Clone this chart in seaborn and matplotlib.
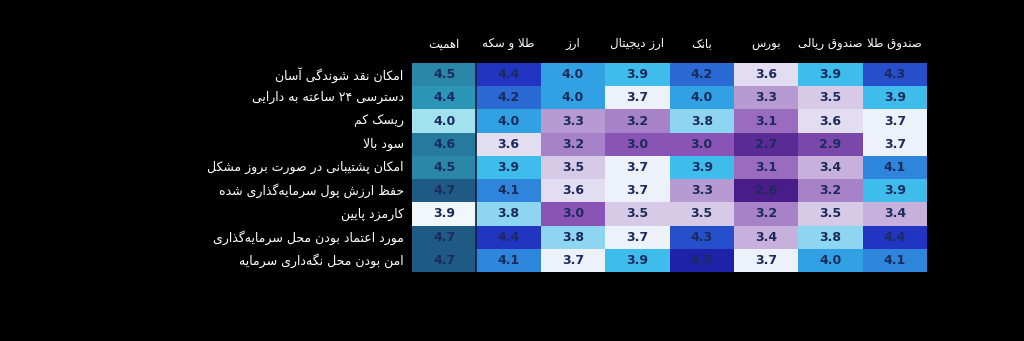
import numpy as np
import pandas as pd
import seaborn as sns
import matplotlib
matplotlib.use("Agg")
import matplotlib.pyplot as plt
from matplotlib.colors import LinearSegmentedColormap

# ---------------- data ----------------
columns = ["اهمیت", "طلا و سکه", "ارز", "ارز دیجیتال", "بانک", "بورس", "صندوق ریالی", "صندوق طلا"]
rows = [
    "امکان نقد شوندگی آسان",
    "دسترسی ۲۴ ساعته به دارایی",
    "ریسک کم",
    "سود بالا",
    "امکان پشتیبانی در صورت بروز مشکل",
    "حفظ ارزش پول سرمایه\u200cگذاری شده",
    "کارمزد پایین",
    "مورد اعتماد بودن محل سرمایه\u200cگذاری",
    "امن بودن محل نگه\u200cداری سرمایه",
]
importance = [4.5, 4.4, 4.0, 4.6, 4.5, 4.7, 3.9, 4.7, 4.7]
gold_coin = [4.4, 4.2, 4.0, 3.6, 3.9, 4.1, 3.8, 4.4, 4.1]
currency = [4.0, 4.0, 3.3, 3.2, 3.5, 3.6, 3.0, 3.8, 3.7]
crypto = [3.9, 3.7, 3.2, 3.0, 3.7, 3.7, 3.5, 3.7, 3.9]
bank = [4.2, 4.0, 3.8, 3.0, 3.9, 3.3, 3.5, 4.3, 4.5]
bourse = [3.6, 3.3, 3.1, 2.7, 3.1, 2.6, 3.2, 3.4, 3.7]
rial_fund = [3.9, 3.5, 3.6, 2.9, 3.4, 3.2, 3.5, 3.8, 4.0]
gold_fund = [4.3, 3.9, 3.7, 3.7, 4.1, 3.9, 3.4, 4.4, 4.1]

# ---------------- minimal Persian shaping (no raqm in matplotlib) ----------------
FORMS = {
    "\u0627": (0xFE8D, 0xFE8E, None, None), "\u0622": (0xFE81, 0xFE82, None, None),
    "\u0628": (0xFE8F, 0xFE90, 0xFE91, 0xFE92), "\u062A": (0xFE95, 0xFE96, 0xFE97, 0xFE98),
    "\u062B": (0xFE99, 0xFE9A, 0xFE9B, 0xFE9C), "\u062C": (0xFE9D, 0xFE9E, 0xFE9F, 0xFEA0),
    "\u062D": (0xFEA1, 0xFEA2, 0xFEA3, 0xFEA4), "\u062E": (0xFEA5, 0xFEA6, 0xFEA7, 0xFEA8),
    "\u062F": (0xFEA9, 0xFEAA, None, None), "\u0630": (0xFEAB, 0xFEAC, None, None),
    "\u0631": (0xFEAD, 0xFEAE, None, None), "\u0632": (0xFEAF, 0xFEB0, None, None),
    "\u0633": (0xFEB1, 0xFEB2, 0xFEB3, 0xFEB4), "\u0634": (0xFEB5, 0xFEB6, 0xFEB7, 0xFEB8),
    "\u0635": (0xFEB9, 0xFEBA, 0xFEBB, 0xFEBC), "\u0636": (0xFEBD, 0xFEBE, 0xFEBF, 0xFEC0),
    "\u0637": (0xFEC1, 0xFEC2, 0xFEC3, 0xFEC4), "\u0638": (0xFEC5, 0xFEC6, 0xFEC7, 0xFEC8),
    "\u0639": (0xFEC9, 0xFECA, 0xFECB, 0xFECC), "\u063A": (0xFECD, 0xFECE, 0xFECF, 0xFED0),
    "\u0641": (0xFED1, 0xFED2, 0xFED3, 0xFED4), "\u0642": (0xFED5, 0xFED6, 0xFED7, 0xFED8),
    "\u0644": (0xFEDD, 0xFEDE, 0xFEDF, 0xFEE0), "\u0645": (0xFEE1, 0xFEE2, 0xFEE3, 0xFEE4),
    "\u0646": (0xFEE5, 0xFEE6, 0xFEE7, 0xFEE8), "\u0647": (0xFEE9, 0xFEEA, 0xFEEB, 0xFEEC),
    "\u0648": (0xFEED, 0xFEEE, None, None), "\u06CC": (0xFBFC, 0xFBFD, 0xFBFE, 0xFBFF),
    "\u06A9": (0xFB8E, 0xFB8F, 0xFB90, 0xFB91), "\u06AF": (0xFB92, 0xFB93, 0xFB94, 0xFB95),
    "\u067E": (0xFB56, 0xFB57, 0xFB58, 0xFB59), "\u0686": (0xFB7A, 0xFB7B, 0xFB7C, 0xFB7D),
    "\u0698": (0xFB8A, 0xFB8B, None, None),
}
LAMALEF = {"\u0627": (0xFEFB, 0xFEFC), "\u0622": (0xFEF5, 0xFEF6)}


def dual(c):
    return c in FORMS and FORMS[c][2] is not None


def shape(text):
    chars = list(text)
    out = []
    i = 0
    n = len(chars)
    while i < n:
        c = chars[i]
        if c == "\u200c":
            i += 1
            continue
        if c not in FORMS:
            out.append(c)
            i += 1
            continue
        prev = chars[i - 1] if i > 0 else None
        join_prev = prev is not None and dual(prev)
        if c == "\u0644" and i + 1 < n and chars[i + 1] in LAMALEF:
            iso, fin = LAMALEF[chars[i + 1]]
            out.append(chr(fin if join_prev else iso))
            i += 2
            continue
        nxt = chars[i + 1] if i + 1 < n else None
        join_next = dual(c) and nxt is not None and nxt in FORMS
        iso, fin, ini, med = FORMS[c]
        if join_prev and join_next:
            f = med
        elif join_prev:
            f = fin
        elif join_next:
            f = ini
        else:
            f = iso
        out.append(chr(f))
        i += 1
    # visual order: reverse, keeping digit runs LTR
    runs = []
    for ch in out:
        isdig = ch.isdigit()
        if runs and isdig and runs[-1][0]:
            runs[-1][1].append(ch)
        else:
            runs.append([isdig, [ch]])
    return "".join("".join(r[1]) for r in reversed(runs))


# ---------------- figure ----------------
df = pd.DataFrame(
    np.array([importance, gold_coin, currency, crypto, bank, bourse, rial_fund, gold_fund]).T,
    index=rows, columns=columns,
)

sns.set_theme(style="white")
plt.rcParams["font.family"] = ["DejaVu Sans"]

fig = plt.figure(figsize=(10.24, 3.41), dpi=100, facecolor="black")
ax = fig.add_axes([412 / 1024, 69 / 341, 515 / 1024, 209 / 341])
ax.set_facecolor("black")

main_cmap = LinearSegmentedColormap.from_list(
    "main",
    [
        (0.00, "#4a1c88"),
        (0.05, "#5a2a95"),
        (0.21, "#8a55b5"),
        (0.37, "#b89bd2"),
        (0.47, "#d6c8e6"),
        (0.58, "#eef2fa"),
        (0.63, "#90d6f2"),
        (0.68, "#40c0ee"),
        (0.74, "#30a0e4"),
        (0.79, "#2e86dc"),
        (0.84, "#2b6cd5"),
        (0.89, "#2852cc"),
        (0.95, "#2234c2"),
        (1.00, "#1d22a8"),
    ],
)
imp_cmap = LinearSegmentedColormap.from_list(
    "imp",
    [(0.0, "#f0f8fc"), (0.125, "#a2e2ee"), (0.625, "#2a95b5"), (0.75, "#2a87a8"),
     (0.875, "#257a9e"), (1.0, "#1f5a85")],
)

mask_main = np.zeros(df.shape, dtype=bool)
mask_main[:, 0] = True
mask_imp = ~mask_main

annot_kws = {"fontsize": 9, "fontweight": "bold", "color": "#1c2a5c"}

sns.heatmap(df, mask=mask_main, cmap=main_cmap, vmin=2.6, vmax=4.5, annot=True, fmt=".1f",
            annot_kws=annot_kws, cbar=False, ax=ax, linewidths=0)
sns.heatmap(df, mask=mask_imp, cmap=imp_cmap, vmin=3.9, vmax=4.7, annot=True, fmt=".1f",
            annot_kws=annot_kws, cbar=False, ax=ax, linewidths=0)

ax.axvline(1, color="#15203a", lw=1.2)

ax.xaxis.tick_top()
ax.set_xticklabels([shape(c) for c in columns], color="white", fontsize=8.5, rotation=0)
ax.set_yticklabels([shape(r) for r in rows], color="white", fontsize=9, rotation=0)
ax.tick_params(axis="both", length=0)
ax.tick_params(axis="x", pad=9)
ax.tick_params(axis="y", pad=6)
ax.set_xlabel("")
ax.set_ylabel("")
for s in ax.spines.values():
    s.set_visible(False)

fig.savefig("out.png", dpi=100, facecolor="black")
